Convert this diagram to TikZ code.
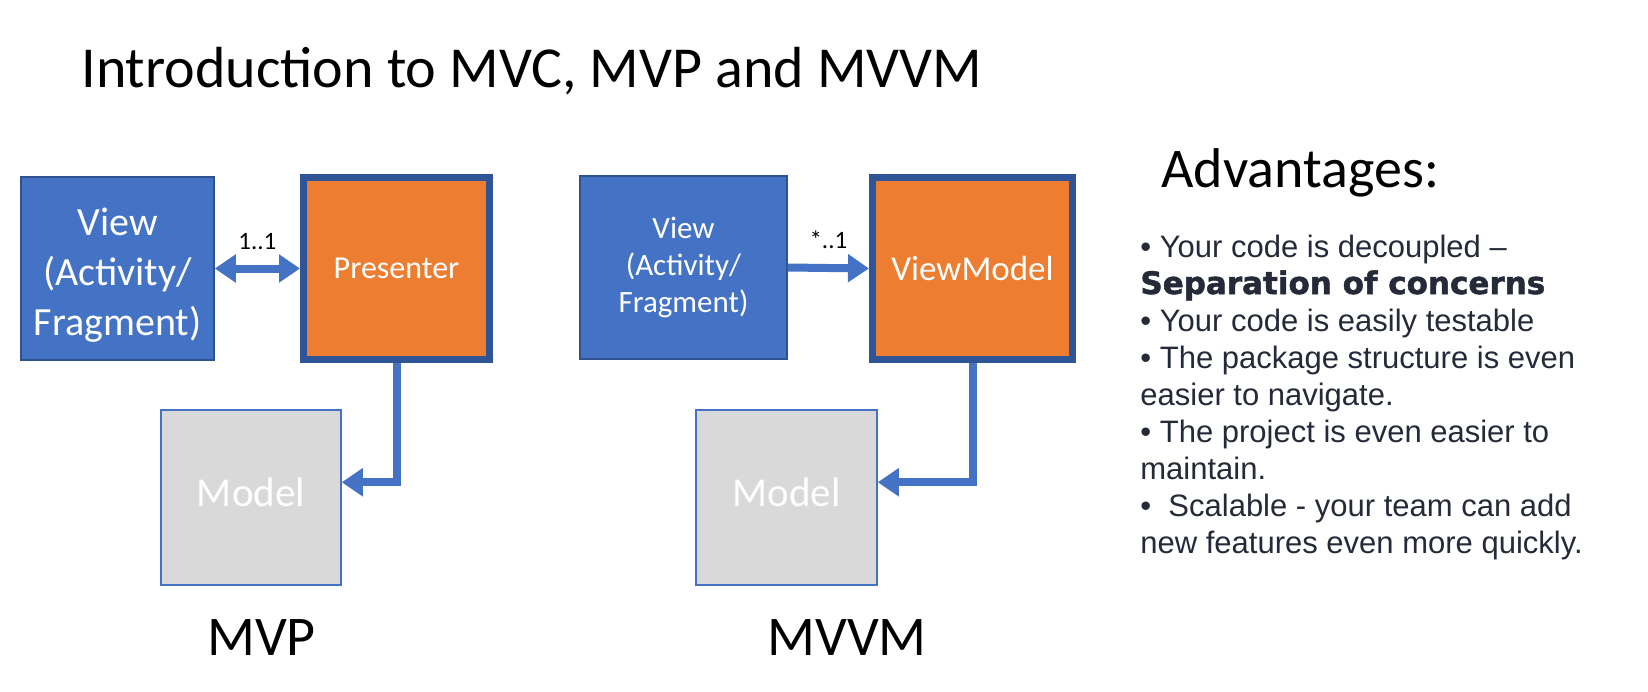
\documentclass[tikz,border=0pt]{standalone}
\usepackage{fontspec}
\setmainfont{Carlito}
\newfontfamily\arialf{Liberation Sans}
\newfontfamily\heavyf{DejaVu Sans}[BoldFeatures={FakeBold=1.6}]
\usetikzlibrary{arrows.meta,positioning}
\definecolor{vblue}{HTML}{4472C4}
\definecolor{vedge}{HTML}{2F528F}
\definecolor{pedge}{HTML}{2F5597}
\definecolor{porange}{HTML}{ED7D31}
\definecolor{mgray}{HTML}{D9D9D9}
\definecolor{bodytxt}{HTML}{252A38}
\newcommand{\fsz}[2]{\fontsize{#1}{#2}\selectfont}

\begin{document}
\begin{tikzpicture}[x=0.5pt,y=-0.5pt,inner sep=0pt,
  v/.style={draw=vedge,line width=0.75pt,fill=vblue,text=white,align=center},
  p/.style={draw=pedge,line width=3.5pt,outer sep=1.75pt,fill=porange,text=white},
  m/.style={draw=vblue,line width=0.75pt,fill=mgray,text=white},
  conn/.style={vblue,line width=4pt},
  mult/.style={midway,above=7.5pt,text=black,font=\fsz{12.5pt}{15pt}},
  >={Triangle[length=10.5pt,width=13.5pt]}]
\useasboundingbox (0,0) rectangle (1648,691);
\node[anchor=base west,font=\fsz{29pt}{34pt}] (title) at (81,87) {Introduction to MVC, MVP and MVVM};
% MVP
\node[v,minimum width=96.5pt,minimum height=91.5pt,font=\fsz{20pt}{25pt}] (view1) at (117.5,268.5) {\rule{0pt}{20pt}View\\(Activity/\\Fragment)};
\node[p,minimum width=93pt,minimum height=91pt,font=\fsz{16pt}{19pt}] (pres) at (396.5,268.5) {Presenter};
\node[m,minimum width=90pt,minimum height=87.5pt,font=\fsz{20.5pt}{24pt}] (model1) at (251,497.5) {\raisebox{5pt}{Model}};
\draw[conn,<->] (view1.east) -- (pres.west) node[mult] (lbl1) {1..1};
\draw[conn,->] (pres.south) |- ([yshift=-36.5pt]model1.north east);
\node[anchor=base,font=\fsz{28pt}{34pt}] (cap1) at (261.5,655) {MVP};
% MVVM
\node[v,minimum width=103.5pt,minimum height=91.5pt,font=\fsz{15.5pt}{18.5pt}] (view2) at (683.5,267.5) {View\\(Activity/\\Fragment)};
\node[p,minimum width=100pt,minimum height=91pt,font=\fsz{17.5pt}{21pt}] (vmodel) at (972.5,268.5) {ViewModel};
\node[m,minimum width=90.5pt,minimum height=87.5pt,font=\fsz{20.5pt}{24pt}] (model2) at (786.5,497.5) {\raisebox{5pt}{Model}};
\draw[conn,->] (view2.east) -- (vmodel.west) node[mult] (lbl2) {*..1};
\draw[conn,->] (vmodel.south) |- ([yshift=-36.5pt]model2.north east);
\node[anchor=base,font=\fsz{28pt}{34pt}] (cap2) at (847,655) {MVVM};
% advantages
\node[anchor=base west,font=\fsz{28pt}{34pt}] (adv) at (1161,187) {Advantages:};
\node[anchor=base west,align=left,text=bodytxt,font=\arialf\fsz{15.5pt}{18.5pt}] (list) at (1140,553) {%
• Your code is decoupled –\\
{\heavyf\bfseries Separation of concerns}\\
• Your code is easily testable\\
• The package structure is even\\
easier to navigate.\\
• The project is even easier to\\
maintain.\\
•~~Scalable - your team can add\\
new features even more quickly.};
\end{tikzpicture}
\end{document}
